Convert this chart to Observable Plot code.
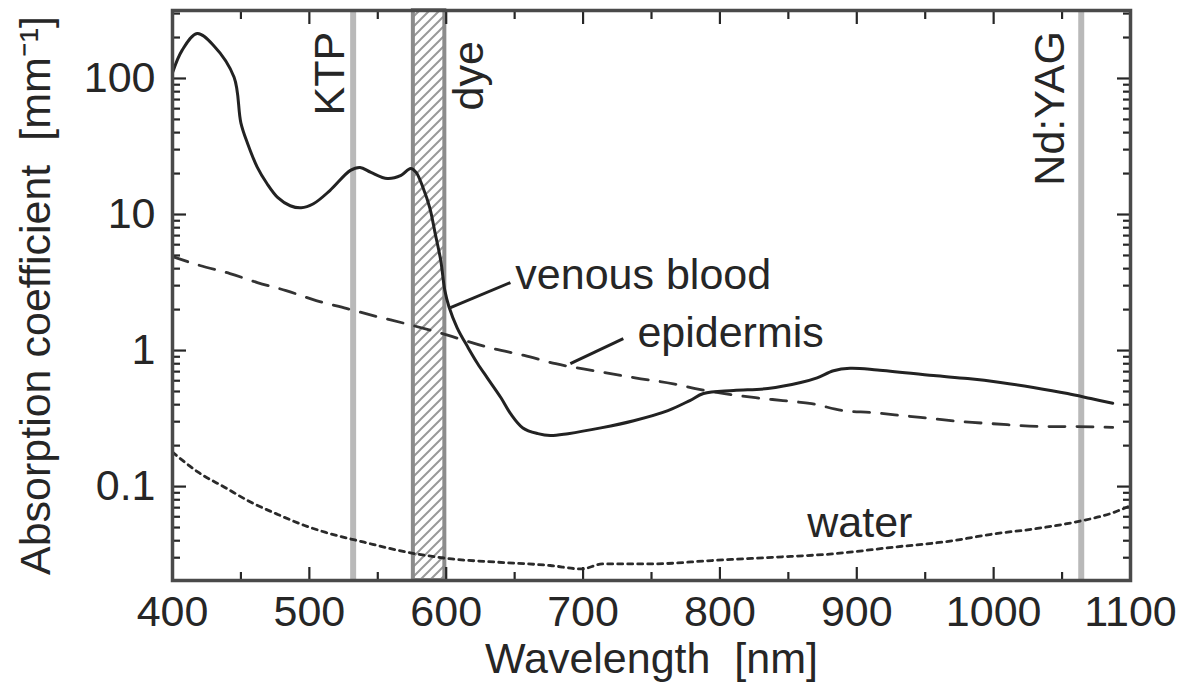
<!DOCTYPE html>
<html>
<head>
<meta charset="utf-8">
<script src="https://cdn.jsdelivr.net/npm/d3@7"></script>
<script src="https://cdn.jsdelivr.net/npm/@observablehq/plot@0.6"></script>
<style>
  html, body { margin: 0; padding: 0; background: #fff; }
  #chart svg { display: block; }
</style>
</head>
<body>
<div id="chart"></div>
<script>
// ---- data ----
const bloodNm = [400, 407, 418, 430, 445, 450, 455, 462, 469, 477, 486, 494, 503, 515, 530, 537, 545, 557, 567, 574, 578, 583, 588, 592, 596, 599, 602, 608, 616, 623, 630, 640, 647, 656, 667, 676, 689, 713, 737, 762, 778, 788, 810, 835, 859, 871, 883, 895, 915, 956, 981, 1005, 1029, 1054, 1071, 1087];
const bloodMu = [110, 161, 214, 175, 102, 47, 33, 22.2, 16.9, 13.3, 11.6, 11.2, 12.0, 15.0, 21.1, 22.2, 20.4, 18.4, 19.4, 21.8, 20.4, 15.8, 11.2, 7.2, 4.6, 2.76, 2.1, 1.47, 1.05, 0.80, 0.63, 0.45, 0.344, 0.27, 0.245, 0.237, 0.245, 0.27, 0.305, 0.362, 0.429, 0.483, 0.508, 0.526, 0.582, 0.63, 0.71, 0.74, 0.72, 0.655, 0.622, 0.582, 0.535, 0.483, 0.444, 0.41];

const epiNm = [400, 420, 442, 462, 483, 505, 527, 549, 570, 594, 634, 657, 680, 708, 738, 766, 782, 826, 846, 867, 890, 911, 933, 955, 977, 999, 1038, 1060, 1087];
const epiMu = [4.9, 4.22, 3.68, 3.16, 2.76, 2.33, 2.04, 1.78, 1.58, 1.36, 1.035, 0.92, 0.80, 0.71, 0.63, 0.57, 0.526, 0.45, 0.429, 0.407, 0.362, 0.35, 0.333, 0.316, 0.30, 0.29, 0.276, 0.276, 0.272];

const waterNm = [400, 409, 419, 438, 457, 476, 496, 512, 540, 571, 604, 638, 676, 699, 714, 750, 794, 838, 882, 926, 970, 1000, 1030, 1059, 1088, 1100];
const waterMu = [0.179, 0.151, 0.127, 0.099, 0.077, 0.063, 0.052, 0.046, 0.039, 0.033, 0.0294, 0.0278, 0.0263, 0.0248, 0.027, 0.027, 0.0286, 0.0302, 0.032, 0.0358, 0.040, 0.0449, 0.0489, 0.0547, 0.0647, 0.0725];

const laserNm = [532, 1064];          // KTP, Nd:YAG lines
const dyeBand = [576, 599];           // hatched dye-laser band

const laserLabels = ["KTP", "dye", "Nd:YAG"];
const laserLabelNm = [515, 617, 1041];
const laserLabelMu = [53.5, 58.2, 16.3];

const curveLabels = ["venous blood", "epidermis", "water"];
const curveLabelNm = [650.5, 739.7, 863.8];
const curveLabelMu = [3.56, 1.334, 0.0535];

const leaderFromNm = [603.1, 690.7];
const leaderFromMu = [2.07, 0.802];
const leaderToNm = [646.9, 729.4];
const leaderToMu = [3.16, 1.225];

const xMajor = [400, 500, 600, 700, 800, 900, 1000, 1100];
const xMinor = [450, 550, 650, 750, 850, 950, 1050];
const yMajor = [0.1, 1, 10, 100];
const yMinor = [0.03, 0.04, 0.05, 0.06, 0.07, 0.08, 0.09,
                0.2, 0.3, 0.4, 0.5, 0.6, 0.7, 0.8, 0.9,
                2, 3, 4, 5, 6, 7, 8, 9,
                20, 30, 40, 50, 60, 70, 80, 90, 200, 300];
const yTickLabels = ["0.1", "1", "10", "100"];

const xTitle = "Wavelength\u00a0 [nm]";
const yTitle = "Absorption coefficient\u00a0 [mm\u207b\u00b9]";

// ---- tables ----
const blood = bloodNm.map((x, i) => ({x, y: bloodMu[i]}));
const epi = epiNm.map((x, i) => ({x, y: epiMu[i]}));
const water = waterNm.map((x, i) => ({x, y: waterMu[i]}));
const laserLabelRows = laserLabels.map((t, i) => ({t, x: laserLabelNm[i], y: laserLabelMu[i]}));
const curveLabelRows = curveLabels.map((t, i) => ({t, x: curveLabelNm[i], y: curveLabelMu[i]}));
const leaders = leaderFromNm.map((x1, i) => ({x1, y1: leaderFromMu[i], x2: leaderToNm[i], y2: leaderToMu[i]}));
const yLabelRows = yMajor.map((v, i) => ({v, t: yTickLabels[i]}));

const FONT = "'Liberation Sans', Arial, Helvetica, sans-serif";
const FS = 43;
const INK = "#262626";

const chart = Plot.plot({
  width: 1181,
  height: 695,
  marginLeft: 172,
  marginRight: 51,
  marginTop: 10,
  marginBottom: 115,
  x: {domain: [400, 1100]},
  y: {type: "log", domain: [0.0204, 316]},
  style: {fontFamily: FONT, color: INK, background: "#fff", overflow: "visible"},
  marks: [
    Plot.rect([dyeBand], {x1: d => d[0], x2: d => d[1], fill: "url(#hatch)", stroke: "#8c8c8c", strokeWidth: 4}),
    Plot.ruleX(laserNm, {stroke: "#b9b9b9", strokeWidth: 6}),
    Plot.line(water, {x: "x", y: "y", curve: "monotone-x", stroke: "#2a2a2a", strokeWidth: 2.8, strokeDasharray: "5,5"}),
    Plot.line(epi, {x: "x", y: "y", curve: "monotone-x", stroke: "#333", strokeWidth: 2.8, strokeDasharray: "16,12"}),
    Plot.line(blood, {x: "x", y: "y", curve: "catmull-rom", stroke: "#222", strokeWidth: 3}),
    Plot.link(leaders, {x1: "x1", y1: "y1", x2: "x2", y2: "y2", stroke: "#222", strokeWidth: 3}),
    Plot.text(curveLabelRows, {x: "x", y: "y", text: "t", textAnchor: "start", fontSize: FS, fill: INK}),
    Plot.text(laserLabelRows, {x: "x", y: "y", text: "t", textAnchor: "start", rotate: -90, fontSize: FS, fill: INK}),
    // tick labels
    Plot.axisX(xMajor, {anchor: "bottom", tickSize: 0, tickPadding: 15, fontSize: FS, label: null, tickFormat: d => String(d)}),
    Plot.text(yLabelRows, {y: "v", text: "t", frameAnchor: "left", textAnchor: "end", dx: -17, fontSize: FS, fill: INK}),
    // inward ticks on all four sides
    Plot.axisX(xMajor, {anchor: "bottom", tickSize: -13, fill: "none", strokeWidth: 2.2, label: null}),
    Plot.axisX(xMinor, {anchor: "bottom", tickSize: -8, fill: "none", strokeWidth: 2.2, label: null}),
    Plot.axisX(xMajor, {anchor: "top", tickSize: -13, fill: "none", strokeWidth: 2.2, label: null}),
    Plot.axisX(xMinor, {anchor: "top", tickSize: -8, fill: "none", strokeWidth: 2.2, label: null}),
    Plot.axisY(yMajor, {anchor: "left", tickSize: -14, fill: "none", strokeWidth: 2.2, label: null}),
    Plot.axisY(yMinor, {anchor: "left", tickSize: -8, fill: "none", strokeWidth: 2.2, label: null}),
    Plot.axisY(yMajor, {anchor: "right", tickSize: -14, fill: "none", strokeWidth: 2.2, label: null}),
    Plot.axisY(yMinor, {anchor: "right", tickSize: -8, fill: "none", strokeWidth: 2.2, label: null}),
    // axis titles
    Plot.text([xTitle], {frameAnchor: "bottom", text: d => d, textAnchor: "middle", dy: 92, fontSize: FS, fill: INK}),
    Plot.text([yTitle], {frameAnchor: "left", text: d => d, textAnchor: "middle", rotate: -90, dx: -136, fontSize: FS, fill: INK}),
    Plot.frame({stroke: "#4a4a4a", strokeWidth: 3.5})
  ]
});

chart.insertAdjacentHTML("afterbegin",
  '<defs><pattern id="hatch" patternUnits="userSpaceOnUse" width="10" height="10">' +
  '<path d="M-2,2 L2,-2 M0,10 L10,0 M8,12 L12,8" stroke="#9a9a9a" stroke-width="2"/>' +
  '</pattern></defs>');

document.getElementById("chart").appendChild(chart);
</script>
</body>
</html>
